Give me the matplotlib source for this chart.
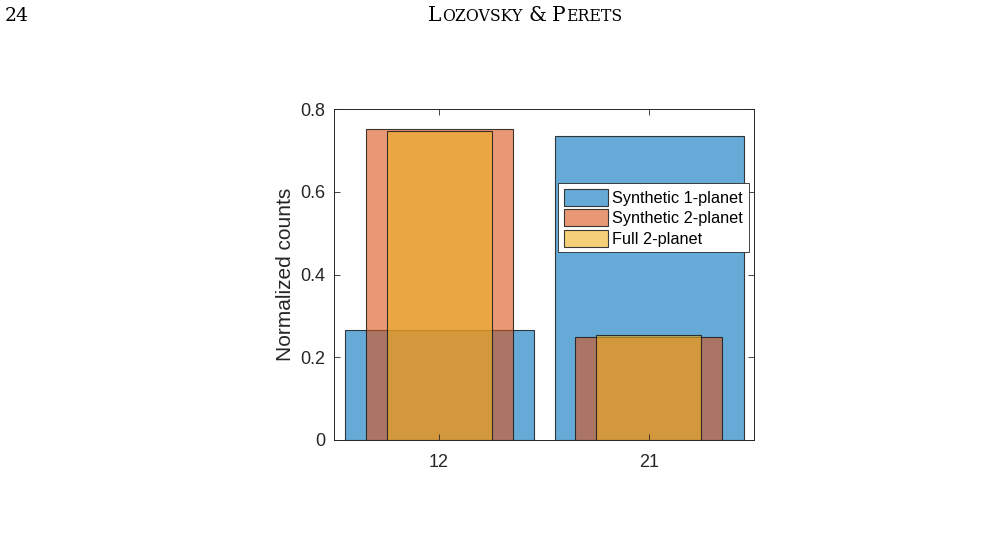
import matplotlib
matplotlib.use("Agg")
import matplotlib.pyplot as plt
import numpy as np

categories = ["12", "21"]
synthetic_1planet = [0.266, 0.734]
synthetic_2planet = [0.751, 0.249]
full_2planet = [0.746, 0.254]

W, H = 992, 544
fig = plt.figure(figsize=(W / 100, H / 100), dpi=100)
plt.rcParams['font.family'] = ['Liberation Sans', 'DejaVu Sans']

# axes box in pixel coordinates: left 334, right 754, top 109, bottom 440
ax = fig.add_axes([334 / W, 1 - 440 / H, (754 - 334) / W, (440 - 109) / H])

x = np.arange(1, len(categories) + 1)
blue = (0, 0.447, 0.741, 0.6)
orange = (0.85, 0.325, 0.098, 0.6)
yellow = (0.929, 0.694, 0.125, 0.6)
ec = (0.1, 0.1, 0.1, 0.85)

ax.bar(x, synthetic_1planet, width=0.9, color=blue, edgecolor=ec, linewidth=0.8,
       label="Synthetic 1-planet")
ax.bar(x, synthetic_2planet, width=0.7, color=orange, edgecolor=ec, linewidth=0.8,
       label="Synthetic 2-planet")
ax.bar(x, full_2planet, width=0.5, color=yellow, edgecolor=ec, linewidth=0.8,
       label="Full 2-planet")

ax.set_xlim(0.5, 2.5)
ax.set_ylim(0, 0.8)
ax.set_xticks(x)
ax.set_xticklabels(categories)
ax.set_yticks([0, 0.2, 0.4, 0.6, 0.8])
ax.set_yticklabels(["0", "0.2", "0.4", "0.6", "0.8"])
axcol = (0.15, 0.15, 0.15)
ax.tick_params(direction='in', top=True, right=True, length=4, width=0.6,
               colors=axcol, labelsize=13)
ax.tick_params(axis='x', pad=10)
ax.tick_params(axis='y', pad=6)
for s in ax.spines.values():
    s.set_color(axcol)
    s.set_linewidth(0.7)
ax.set_ylabel("Normalized counts", fontsize=15, color=axcol, labelpad=4)

leg = ax.legend(loc='upper left', bbox_to_anchor=((558 - 334) / 420, (440 - 183) / 331),
                fontsize=11.7, frameon=True, fancybox=False, edgecolor=axcol,
                framealpha=1.0, facecolor='white',
                handlelength=2.7, handleheight=1.25, handletextpad=0.3,
                borderpad=0.35, labelspacing=0.2, borderaxespad=0.0)
leg.get_frame().set_linewidth(0.6)

# page header
renderer = fig.canvas.get_renderer()
fig.text(5 / W, 1 - 21 / H, "24", fontsize=13.5, family='DejaVu Serif', va='baseline')
pieces = [("L", 14.5), ("OZOVSKY", 11.3), (" ", 14.5), ("&", 14.5), (" ", 14.5),
          ("P", 14.5), ("ERETS", 11.3)]
xpos = 428.0
for txt, fs in pieces:
    t = fig.text(xpos / W, 1 - 21 / H, txt, fontsize=fs, family='DejaVu Serif',
                 va='baseline')
    if txt == " ":
        xpos += 5.5
    else:
        xpos += t.get_window_extent(renderer).width + 0.5

fig.savefig("out.png", dpi=100)
